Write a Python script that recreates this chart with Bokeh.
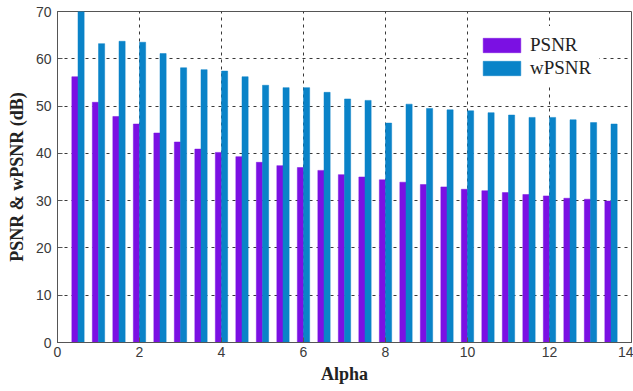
from bokeh.plotting import figure
from bokeh.models import Range1d, FixedTicker, Legend, LegendItem
from bokeh.embed import file_html
from bokeh.resources import INLINE

alpha = [0.5, 1.0, 1.5, 2.0, 2.5, 3.0, 3.5, 4.0, 4.5, 5.0, 5.5, 6.0, 6.5, 7.0,
         7.5, 8.0, 8.5, 9.0, 9.5, 10.0, 10.5, 11.0, 11.5, 12.0, 12.5, 13.0, 13.5]
psnr = [56.2, 50.8, 47.8, 46.2, 44.3, 42.4, 40.9, 40.2, 39.3, 38.1, 37.4, 37.0, 36.4, 35.5,
        35.0, 34.4, 33.9, 33.4, 32.9, 32.4, 32.1, 31.7, 31.3, 31.0, 30.5, 30.3, 29.9]
wpsnr = [70.0, 63.2, 63.7, 63.5, 61.1, 58.1, 57.7, 57.4, 56.2, 54.4, 53.9, 53.9, 52.9, 51.5,
         51.2, 46.4, 50.4, 49.5, 49.2, 49.0, 48.6, 48.1, 47.6, 47.6, 47.1, 46.5, 46.2]
x_ticks = [0, 2, 4, 6, 8, 10, 12, 14]
y_ticks = [0, 10, 20, 30, 40, 50, 60, 70]

p = figure(width=633, height=391, output_backend="svg", toolbar_location=None,
           x_range=Range1d(0, 14), y_range=Range1d(0, 70),
           min_border_left=57, min_border_right=2, min_border_top=11, min_border_bottom=49)

off = 0.075
bw = 0.15
r1 = p.vbar(x=[a - off for a in alpha], top=psnr, width=bw, bottom=0,
            fill_color="#7b10e3", line_color="#7b10e3", line_width=0.5)
r2 = p.vbar(x=[a + off for a in alpha], top=wpsnr, width=bw, bottom=0,
            fill_color="#0a83c8", line_color="#0a83c8", line_width=0.5)

p.xaxis.ticker = FixedTicker(ticks=x_ticks)
p.yaxis.ticker = FixedTicker(ticks=y_ticks)
for ax in (p.xaxis, p.yaxis):
    ax.major_tick_in = 5
    ax.major_tick_out = 0
    ax.minor_tick_in = 0
    ax.minor_tick_out = 0
    ax.axis_line_color = "#555555"
    ax.major_tick_line_color = "#555555"
    ax.major_label_text_font = "Liberation Sans"
    ax.major_label_text_font_size = "14px"
    ax.major_label_text_color = "#3a3a3a"
    ax.axis_label_text_font = "Liberation Serif"
    ax.axis_label_text_font_style = "bold"
    ax.axis_label_text_font_size = "18px"
    ax.axis_label_text_color = "#222222"

p.xaxis.axis_label = "Alpha"
p.yaxis.axis_label = "PSNR & wPSNR (dB)"
p.xaxis.major_label_standoff = 4
p.yaxis.major_label_standoff = 6
p.xaxis.axis_label_standoff = 4
p.yaxis.axis_label_standoff = 6

p.outline_line_color = "#555555"
p.outline_line_width = 1

for g in (p.xgrid, p.ygrid):
    g.grid_line_color = "#222222"
    g.grid_line_dash = "3 4"
    g.grid_line_width = 1
    g.grid_line_alpha = 0.9

legend = Legend(items=[LegendItem(label="PSNR", renderers=[r1]),
                       LegendItem(label="wPSNR", renderers=[r2])],
                location=(413, 255), orientation="vertical")
legend.glyph_width = 47
legend.glyph_height = 18
legend.label_height = 18
legend.spacing = 1
legend.padding = 8
legend.margin = 0
legend.label_standoff = 5
legend.label_text_font = "Liberation Serif"
legend.label_text_font_size = "19px"
legend.label_text_color = "#222222"
legend.border_line_alpha = 0
legend.background_fill_color = "white"
legend.background_fill_alpha = 1
p.add_layout(legend, "center")

open("out.html", "w").write(file_html(p, INLINE))
